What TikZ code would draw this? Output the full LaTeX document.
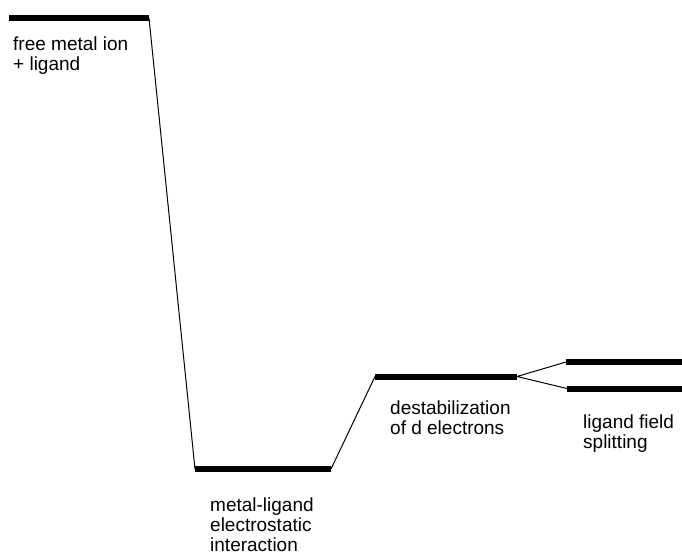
\documentclass[tikz,border=0pt]{standalone}
\usepackage{fontspec}
\setmainfont{Liberation Sans}
\usepackage{tikz}

\begin{document}
\begin{tikzpicture}[x=1pt,y=-1pt,
        level/.style={line width=6pt},
        link/.style={line width=1pt},
        tag/.style={anchor=north west,inner sep=0pt,align=left,
            font=\fontsize{19}{20}\selectfont}]
    \useasboundingbox (0,0) rectangle (682,557);
    \path (9,18) coordinate (FL) (149,18) coordinate (FR)
        (195,469) coordinate (EL) (331,469) coordinate (ER)
        (375,376.5) coordinate (DL) (517,376.5) coordinate (DR)
        (566,362) coordinate (UL) (682,362) coordinate (UR)
        (567,388.5) coordinate (LL) (682,388.5) coordinate (LR);
    \draw[level] (FL) -- (FR) (EL) -- (ER) (DL) -- (DR)
        (UL) -- (UR) (LL) -- (LR);
    \draw[link] (FR) -- (EL) (ER) -- (DL) (DR) -- (UL) (DR) -- (LL);
    \node[tag] (free) at (13,37) {free metal ion\\+ ligand};
    \node[tag] (elec) at (210,498) {metal-ligand\\electrostatic\\interaction};
    \node[tag] (destab) at (390,401) {destabilization\\of d electrons};
    \node[tag] (split) at (583,415) {ligand field\\splitting};
\end{tikzpicture}
\end{document}
